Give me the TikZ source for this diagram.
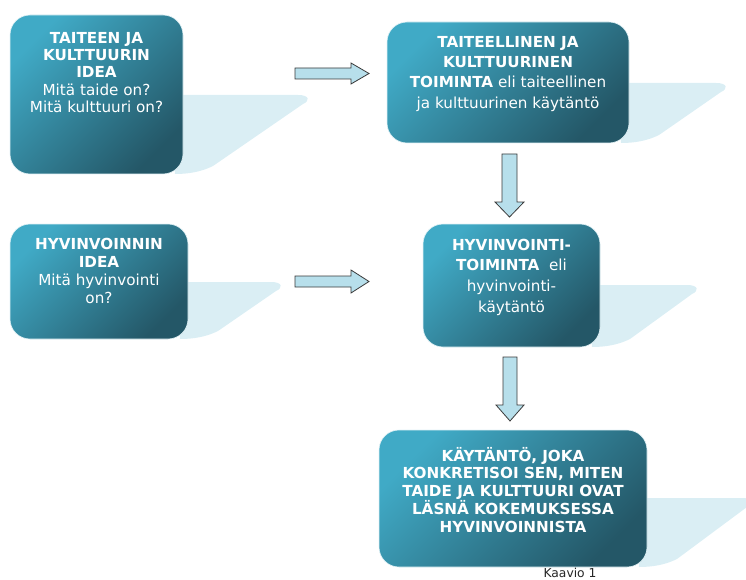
\documentclass[tikz,border=0pt]{standalone}
\usepackage{fontspec}
\setmainfont{DejaVu Sans}
\definecolor{boxlight}{HTML}{40AAC6}
\definecolor{boxmid}{HTML}{2F8299}
\definecolor{boxdark}{HTML}{245767}
\definecolor{shadowc}{HTML}{DAEEF4}
\definecolor{arrowc}{HTML}{B7DFEB}
\definecolor{arrowline}{HTML}{3A3A3A}
\newcommand\bshadow[4]{%
  \fill[shadowc] (#1-10,#3) -- (#4-10,#3) .. controls (#4+2,#3) and (#4+2,#3+6) .. (#4-5,#3+9)
    -- (#1+30,#2-8) .. controls (#1+18,#2-2) and (#1+5,#2) .. (#1-8,#2) -- cycle;}
\tikzset{
  ibox/.style={rectangle, rounded corners=20pt, draw=white!85!boxlight, line width=0.6pt,
    shading=axis, top color=boxlight, middle color=boxmid, bottom color=boxdark, shading angle=45,
    inner sep=0pt},
  itext/.style={anchor=north, inner sep=0pt, text=white, align=center},
  blockarrow/.style={fill=arrowc, draw=arrowline, line width=0.8pt, line join=miter}
}
\begin{document}
\begin{tikzpicture}[x=1pt,y=-1pt]
\useasboundingbox (0,0) rectangle (746,580);
% shadows
\bshadow{183}{174}{95}{308}
\bshadow{629}{143}{83}{726}
\bshadow{188}{339}{282}{281}
\bshadow{600}{347}{285}{697}
\bshadow{647}{567}{498}{752}
% boxes
\node[ibox, minimum width=173pt, minimum height=159pt] (b1) at (96.5,94.5) {};
\node[ibox, minimum width=242pt, minimum height=121pt] (b2) at (508,82.5) {};
\node[ibox, minimum width=178pt, minimum height=115pt] (b3) at (99,281.5) {};
\node[ibox, minimum width=177pt, minimum height=123pt] (b4) at (511.5,285.5) {};
\node[ibox, minimum width=268pt, minimum height=137pt] (b5) at (513,498.5) {};
% texts
\node[itext, font=\fontsize{15.2}{17.3}\selectfont] (t1) at ([yshift=-17.2pt]b1.north)
  {\textbf{TAITEEN JA}\\\textbf{KULTTUURIN}\\\textbf{IDEA}\\Mitä taide on?\\Mitä kulttuuri on?};
\node[itext, font=\fontsize{15.2}{20.3}\selectfont] (t2) at ([yshift=-14.2pt]b2.north)
  {\textbf{TAITEELLINEN JA}\\\textbf{KULTTUURINEN}\\\textbf{TOIMINTA} eli taiteellinen\\ja kulttuurinen käytäntö};
\node[itext, font=\fontsize{15.2}{18}\selectfont] (t3) at ([yshift=-14.2pt]b3.north)
  {\textbf{HYVINVOINNIN}\\\textbf{IDEA}\\Mitä hyvinvointi\\on?};
\node[itext, font=\fontsize{15.2}{20.6}\selectfont] (t4) at ([yshift=-15.2pt]b4.north)
  {\textbf{HYVINVOINTI-}\\\textbf{TOIMINTA}\ \ eli\\hyvinvointi-\\käytäntö};
\node[itext, font=\fontsize{15.2}{17.8}\selectfont\bfseries] (t5) at ([yshift=-17.2pt]b5.north)
  {KÄYTÄNTÖ, JOKA\\KONKRETISOI SEN, MITEN\\TAIDE JA KULTTUURI OVAT\\LÄSNÄ KOKEMUKSESSA\\HYVINVOINNISTA};
% block arrows
\draw[blockarrow] (295,68) -- (351,68) -- (351,63) -- (369,73.5) -- (351,84) -- (351,79) -- (295,79) -- cycle;
\draw[blockarrow] (295,276) -- (351,276) -- (351,270) -- (369,281.5) -- (351,293) -- (351,287) -- (295,287) -- cycle;
\draw[blockarrow] (502,154) -- (517,154) -- (517,202) -- (524,202) -- (509.5,217) -- (495,202) -- (502,202) -- cycle;
\draw[blockarrow] (503,357) -- (517,357) -- (517,405) -- (524,405) -- (510,421) -- (496,405) -- (503,405) -- cycle;
% caption
\node[anchor=base, inner sep=0pt, font=\fontsize{12.3}{14}\selectfont, text=black!85] (cap) at (570,577.5) {Kaavio 1};
\end{tikzpicture}
\end{document}
